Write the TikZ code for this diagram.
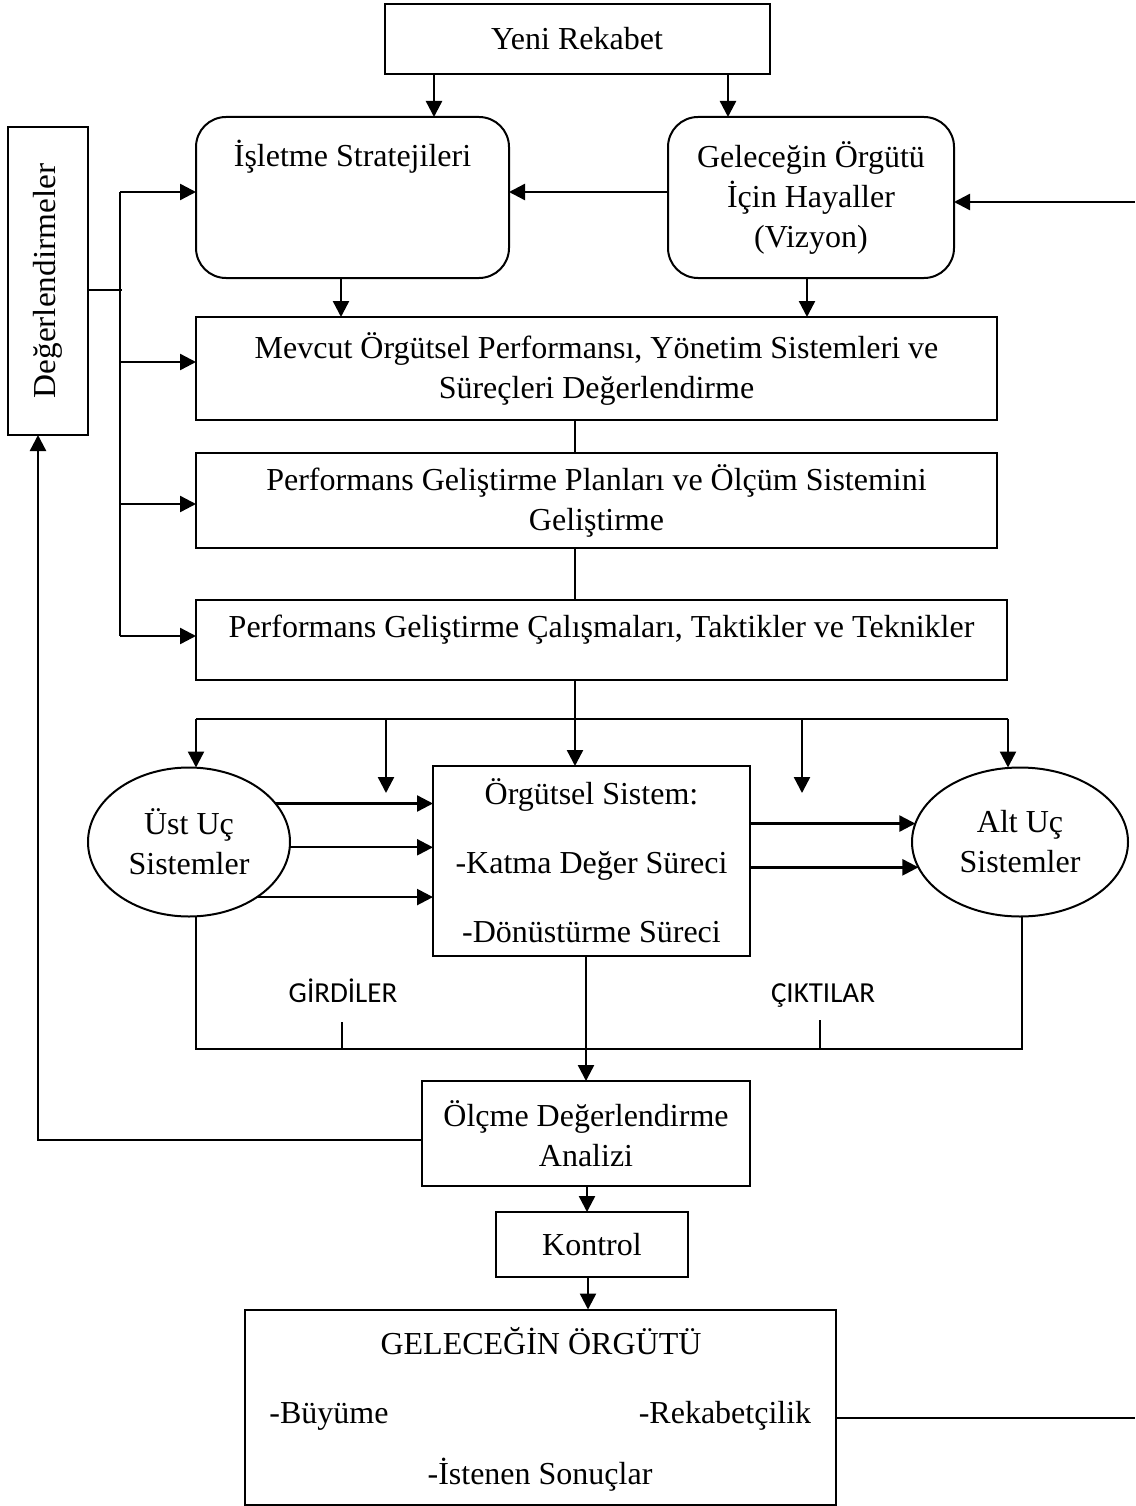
\documentclass[tikz,border=0pt]{standalone}
\usepackage{fontspec}
\setmainfont{Liberation Serif}
\newfontfamily\labelsans{Carlito}
\usetikzlibrary{arrows.meta,shapes.geometric}

\begin{document}
\begin{tikzpicture}[x=1pt,y=-1pt,
  every node/.style={font=\fontsize{32}{40}\selectfont, inner sep=0pt, outer sep=0pt},
  box/.style={draw, line width=2pt, align=center},
  rbox/.style={draw, line width=2pt, rounded corners=30pt, align=center},
  oval/.style={draw, ellipse, line width=2pt, align=center},
  tag/.style={font=\labelsans\fontsize{29}{34}\selectfont, anchor=base},
  arr/.style={line width=2.4pt, -{Triangle[length=16pt,width=16pt]}},
  wire/.style={line width=2pt}]

\useasboundingbox (0,0) rectangle (1135,1506);

% upper blocks
\node[box, minimum width=385, minimum height=70] (yeni) at (577,39) {Yeni Rekabet};
\node[rbox, minimum width=313, minimum height=161] (isl) at (352.5,197.5) {};
\node (islT) at (352.5,157) {İşletme Stratejileri};
\node[rbox, minimum width=286, minimum height=161] (gel) at (811,197.5)
  {Geleceğin Örgütü\\İçin Hayaller\\(Vizyon)};
\node[box, minimum width=801, minimum height=103] (mev) at (596.5,368.5)
  {Mevcut Örgütsel Performansı, Yönetim Sistemleri ve\\Süreçleri Değerlendirme};
\node[box, minimum width=801, minimum height=95] (plan) at (596.5,500.5)
  {Performans Geliştirme Planları ve Ölçüm Sistemini\\Geliştirme};
\node[box, minimum width=811, minimum height=80] (cal) at (601.5,640) {};
\node (calT) at (601.5,630) {Performans Geliştirme Çalışmaları, Taktikler ve Teknikler};

% side block
\node[box, minimum width=80, minimum height=308] (deg) at (48,281)
  {\rotatebox{90}{\scalebox{1.04}[1]{Değerlendirmeler}}};

% system row
\node[oval, minimum width=202, minimum height=149] (ust) at (189,842) {Üst Uç\\Sistemler};
\node[box, minimum width=317, minimum height=190, font=\fontsize{32}{69}\selectfont] (org) at (591.5,861)
  {Örgütsel Sistem:\\-Katma Değer Süreci\\-Dönüstürme Süreci};
\node[oval, minimum width=216, minimum height=149] (alt) at (1020,842) {Alt Uç\\Sistemler};
\node[tag] (gir) at (343,1002) {GİRDİLER};
\node[tag] (cik) at (823,1002) {ÇIKTILAR};

% lower blocks
\node[box, minimum width=328, minimum height=105] (olc) at (586,1133.5) {Ölçme Değerlendirme\\Analizi};
\node[box, minimum width=192, minimum height=65] (kon) at (592,1244.5) {Kontrol};
\node[box, minimum width=591, minimum height=195] (fut) at (540.5,1407) {};
\node (futT) at (541,1341) {GELECEĞİN ÖRGÜTÜ};
\node[anchor=base] (futA) at (329,1423) {-Büyüme};
\node[anchor=base] (futB) at (725,1423) {-Rekabetçilik};
\node (futC) at (540,1475) {-İstenen Sonuçlar};

% top connectors
\draw[arr] (434,0 |- yeni.south) -- (434,0 |- isl.north);
\draw[arr] (728,0 |- yeni.south) -- (728,0 |- gel.north);
\draw[arr] (gel.west |- 0,192) -- (isl.east |- 0,192);
\coordinate (vin) at (1135,202);
\draw[arr] (vin) -- (gel.east |- vin);
\draw[arr] (341,0 |- isl.south) -- (341,0 |- mev.north);
\draw[arr] (807,0 |- gel.south) -- (807,0 |- mev.north);
\draw[wire] (575,0 |- mev.south) -- (575,0 |- plan.north);
\draw[wire] (575,0 |- plan.south) -- (575,0 |- cal.north);

% feedback spine on the left
\coordinate (spT) at (120,192);
\coordinate (spB) at (120,636);
\draw[wire] (deg.east |- 0,290) -- (122,290);
\draw[wire] (spT) -- (spB);
\draw[arr] (spT) -- (isl.west |- spT);
\draw[arr] (120,362) -- (mev.west |- 0,362);
\draw[arr] (120,504) -- (plan.west |- 0,504);
\draw[arr] (spB) -- (cal.west |- spB);

% distribution bus
\coordinate (busL) at (196,719);
\coordinate (busR) at (1008,719);
\draw[wire] (575,0 |- cal.south) -- (575,719);
\draw[wire] (busL) -- (busR);
\draw[arr] (busL) -- (busL |- ust.north);
\coordinate (dropA) at (386,793);
\draw[arr] (386,719) -- (dropA);
\draw[arr] (575,719) -- (575,0 |- org.north);
\coordinate (dropB) at (802,793);
\draw[arr] (802,719) -- (dropB);
\draw[arr] (busR) -- (busR |- alt.north);

% inputs and outputs
\draw[arr] (ust.24) -- (ust.24 -| org.west);
\draw[arr] (ust.-3) -- (ust.-3 -| org.west);
\draw[arr] (ust.-39) -- (ust.-39 -| org.west);
\draw[arr] (org.east |- alt.170) -- (alt.170);
\draw[arr] (org.east |- alt.194) -- (alt.194);

% lower frame
\coordinate (botL) at (196,1049);
\coordinate (botR) at (1022,1049);
\draw[wire] (196,0 |- ust.south) -- (botL) -- (botR) -- (1022,0 |- alt.south);
\draw[wire] (342,1022) -- (342,0 |- botL);
\draw[wire] (820,1020) -- (820,0 |- botL);

% measurement, control and result
\draw[arr] (olc.north |- org.south) -- (olc.north);
\draw[arr] (587,0 |- olc.south) -- (587,0 |- kon.north);
\draw[arr] (588,0 |- kon.south) -- (588,0 |- fut.north);
\coordinate (fbL) at (38,1140);
\draw[arr] (olc.west |- fbL) -- (fbL) -- (fbL |- deg.south);
\coordinate (outR) at (1135,1418);
\draw[wire] (fut.east |- outR) -- (outR);

\end{tikzpicture}
\end{document}
